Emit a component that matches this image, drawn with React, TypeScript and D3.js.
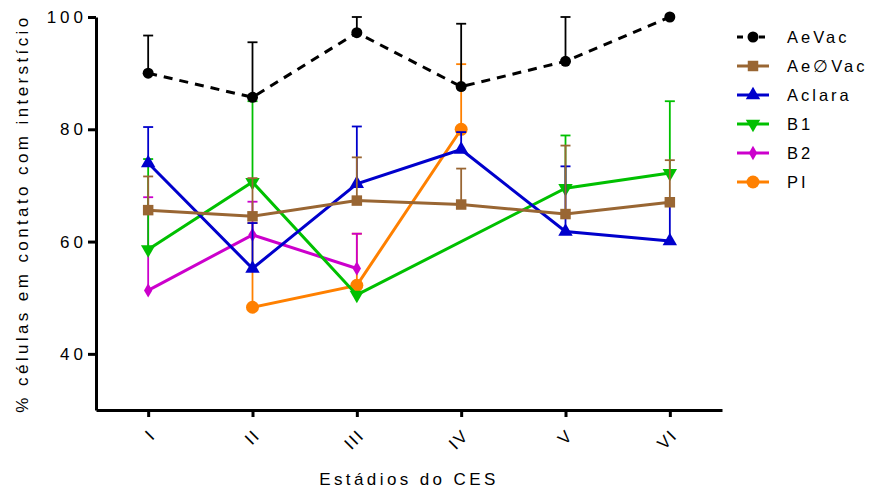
import React, { useRef, useEffect } from 'react';
import * as d3 from 'd3';

// Stages of the CES (x categories)
const categories = ['I', 'II', 'III', 'IV', 'V', 'VI'];

// mean values per series (null = no measurement)
const aeVac = [90.0, 85.7, 97.2, 87.6, 92.1, 100];
const aeVacErr = [6.7, 9.8, 2.8, 11.2, 7.9, 0];

const aeNoVac = [65.6, 64.5, 67.3, 66.6, 64.9, 67.0];
const aeNoVacErr = [6.0, 6.8, 7.7, 6.4, 12.2, 7.5];

const aclara = [74.0, 55.2, 70.3, 76.4, 61.8, 60.1];
const aclaraErr = [6.4, 8.1, 10.2, 3.1, 11.6, 6.5];

const b1 = [58.6, 70.6, 50.5, null, 69.5, 72.2];
const b1Err = [16.1, 14.4, 0, null, 9.4, 12.8];

const b2 = [51.3, 61.2, 55.2, null, null, null];
const b2Err = [16.6, 5.9, 6.2, null, null, null];

const pi = [null, 48.3, 52.2, 80.0, null, null];
const piErr = [null, 15.0, 9.2, 11.6, null, null];

const yTicks = [40, 60, 80, 100];

type Shape = 'circle' | 'square' | 'triUp' | 'triDown' | 'diamond' | 'bigCircle';

interface Series {
  name: string;
  values: (number | null)[];
  errors: (number | null)[];
  color: string;
  shape: Shape;
  dashed?: boolean;
}

const series: Series[] = [
  { name: 'AeVac', values: aeVac, errors: aeVacErr, color: '#000000', shape: 'circle', dashed: true },
  { name: 'Ae\u2205Vac', values: aeNoVac, errors: aeNoVacErr, color: '#996633', shape: 'square' },
  { name: 'Aclara', values: aclara, errors: aclaraErr, color: '#0000CC', shape: 'triUp' },
  { name: 'B1', values: b1, errors: b1Err, color: '#00C000', shape: 'triDown' },
  { name: 'B2', values: b2, errors: b2Err, color: '#CC00CC', shape: 'diamond' },
  { name: 'PI', values: pi, errors: piErr, color: '#FF8000', shape: 'bigCircle' },
];

const FONT = "Arial, 'Liberation Sans', sans-serif";

const drawMarker = (g: any, shape: Shape, cx: number, cy: number, color: string) => {
  if (shape === 'circle') {
    g.append('circle').attr('cx', cx).attr('cy', cy).attr('r', 5.5).attr('fill', color);
  } else if (shape === 'bigCircle') {
    g.append('circle').attr('cx', cx).attr('cy', cy).attr('r', 6.5).attr('fill', color);
  } else {
    const sym =
      shape === 'square'
        ? d3.symbol(d3.symbolSquare, 110)
        : shape === 'diamond'
        ? d3.symbol(d3.symbolDiamond, 60)
        : d3.symbol(d3.symbolTriangle, 90);
    g.append('path')
      .attr('d', sym())
      .attr('fill', color)
      .attr('transform', `translate(${cx},${cy})${shape === 'triDown' ? ' rotate(180)' : ''}`);
  }
};

const Chart: React.FC = () => {
  const svgRef = useRef<SVGSVGElement>(null);

  useEffect(() => {
    document.body.style.margin = '0';
    const svg = d3.select(svgRef.current);
    svg.selectAll('*').remove();

    const width = 870;
    const height = 492;
    const left = 96;
    const right = 722;
    const top = 17;
    const bottom = 410;

    svg.attr('width', width).attr('height', height);

    const x = d3.scalePoint<string>().domain(categories).range([left, right]).padding(0.5);
    const y = d3.scaleLinear().domain([30, 100]).range([bottom, top]);

    // y axis
    const yAxis = svg
      .append('g')
      .attr('transform', `translate(${left},0)`)
      .call(d3.axisLeft(y).tickValues(yTicks).tickSize(8).tickSizeOuter(0).tickPadding(1));
    yAxis.select('.domain').attr('stroke-width', 3).attr('stroke', '#000');
    yAxis.selectAll('.tick line').attr('stroke-width', 3);
    yAxis
      .selectAll('.tick text')
      .attr('font-family', FONT)
      .attr('font-size', 17)
      .attr('letter-spacing', 4)
      .attr('fill', '#000');

    // x axis
    const xAxis = svg
      .append('g')
      .attr('transform', `translate(0,${bottom})`)
      .call(d3.axisBottom(x).tickSize(7).tickSizeOuter(0));
    xAxis.select('.domain').attr('stroke-width', 3).attr('stroke', '#000');
    xAxis.selectAll('.tick line').attr('stroke-width', 3);
    xAxis
      .selectAll('.tick text')
      .attr('font-family', FONT)
      .attr('font-size', 17)
      .attr('letter-spacing', 2)
      .attr('fill', '#000')
      .attr('text-anchor', 'end')
      .attr('dy', '0.35em')
      .attr('y', 0)
      .attr('transform', 'translate(4,22) rotate(-45)');

    // axis titles
    svg
      .append('text')
      .attr('x', (left + right) / 2)
      .attr('y', 485)
      .attr('text-anchor', 'middle')
      .attr('font-family', FONT)
      .attr('font-size', 17)
      .attr('letter-spacing', 3.4)
      .text('Estádios do CES');

    svg
      .append('text')
      .attr('transform', `translate(28,${(top + bottom) / 2}) rotate(-90)`)
      .attr('text-anchor', 'middle')
      .attr('font-family', FONT)
      .attr('font-size', 17)
      .attr('letter-spacing', 3.4)
      .text('% células em contato com interstício');

    const plot = svg.append('g');
    const lineGen = d3
      .line<[number, number]>()
      .x((d) => d[0])
      .y((d) => d[1]);

    // draw from last to first so AeVac ends on top
    [...series].reverse().forEach((s) => {
      const g = plot.append('g');
      const pts: [string, number, number | null][] = [];
      s.values.forEach((v, i) => {
        if (v !== null) pts.push([categories[i], v, s.errors[i]]);
      });

      // error bars (upper only)
      pts.forEach(([c, v, e]) => {
        if (!e) return;
        const cx = x(c)!;
        g.append('line')
          .attr('x1', cx).attr('x2', cx)
          .attr('y1', y(v)).attr('y2', y(v + e))
          .attr('stroke', s.color).attr('stroke-width', 1.8);
        g.append('line')
          .attr('x1', cx - 5).attr('x2', cx + 5)
          .attr('y1', y(v + e)).attr('y2', y(v + e))
          .attr('stroke', s.color).attr('stroke-width', 1.8);
      });

      g.append('path')
        .attr('d', lineGen(pts.map(([c, v]) => [x(c)!, y(v)])))
        .attr('fill', 'none')
        .attr('stroke', s.color)
        .attr('stroke-width', 3)
        .attr('stroke-dasharray', s.dashed ? '9,7' : null);

      pts.forEach(([c, v]) => drawMarker(g, s.shape, x(c)!, y(v), s.color));
    });

    // legend
    const legend = svg.append('g').attr('transform', 'translate(737,37)');
    series.forEach((s, i) => {
      const row = legend.append('g').attr('transform', `translate(0,${i * 29})`);
      row.append('line')
        .attr('x1', 0).attr('x2', 32).attr('y1', 0).attr('y2', 0)
        .attr('stroke', s.color).attr('stroke-width', 3)
        .attr('stroke-dasharray', s.dashed ? '6,5' : null);
      drawMarker(row, s.shape, 16, 0, s.color);
      row.append('text')
        .attr('x', 50).attr('y', 0).attr('dy', '0.35em')
        .attr('font-family', FONT)
        .attr('font-size', 16.5)
        .attr('letter-spacing', 3)
        .text(s.name);
    });
  }, []);

  return <svg ref={svgRef} />;
};

export default function App() {
  return <Chart />;
}
